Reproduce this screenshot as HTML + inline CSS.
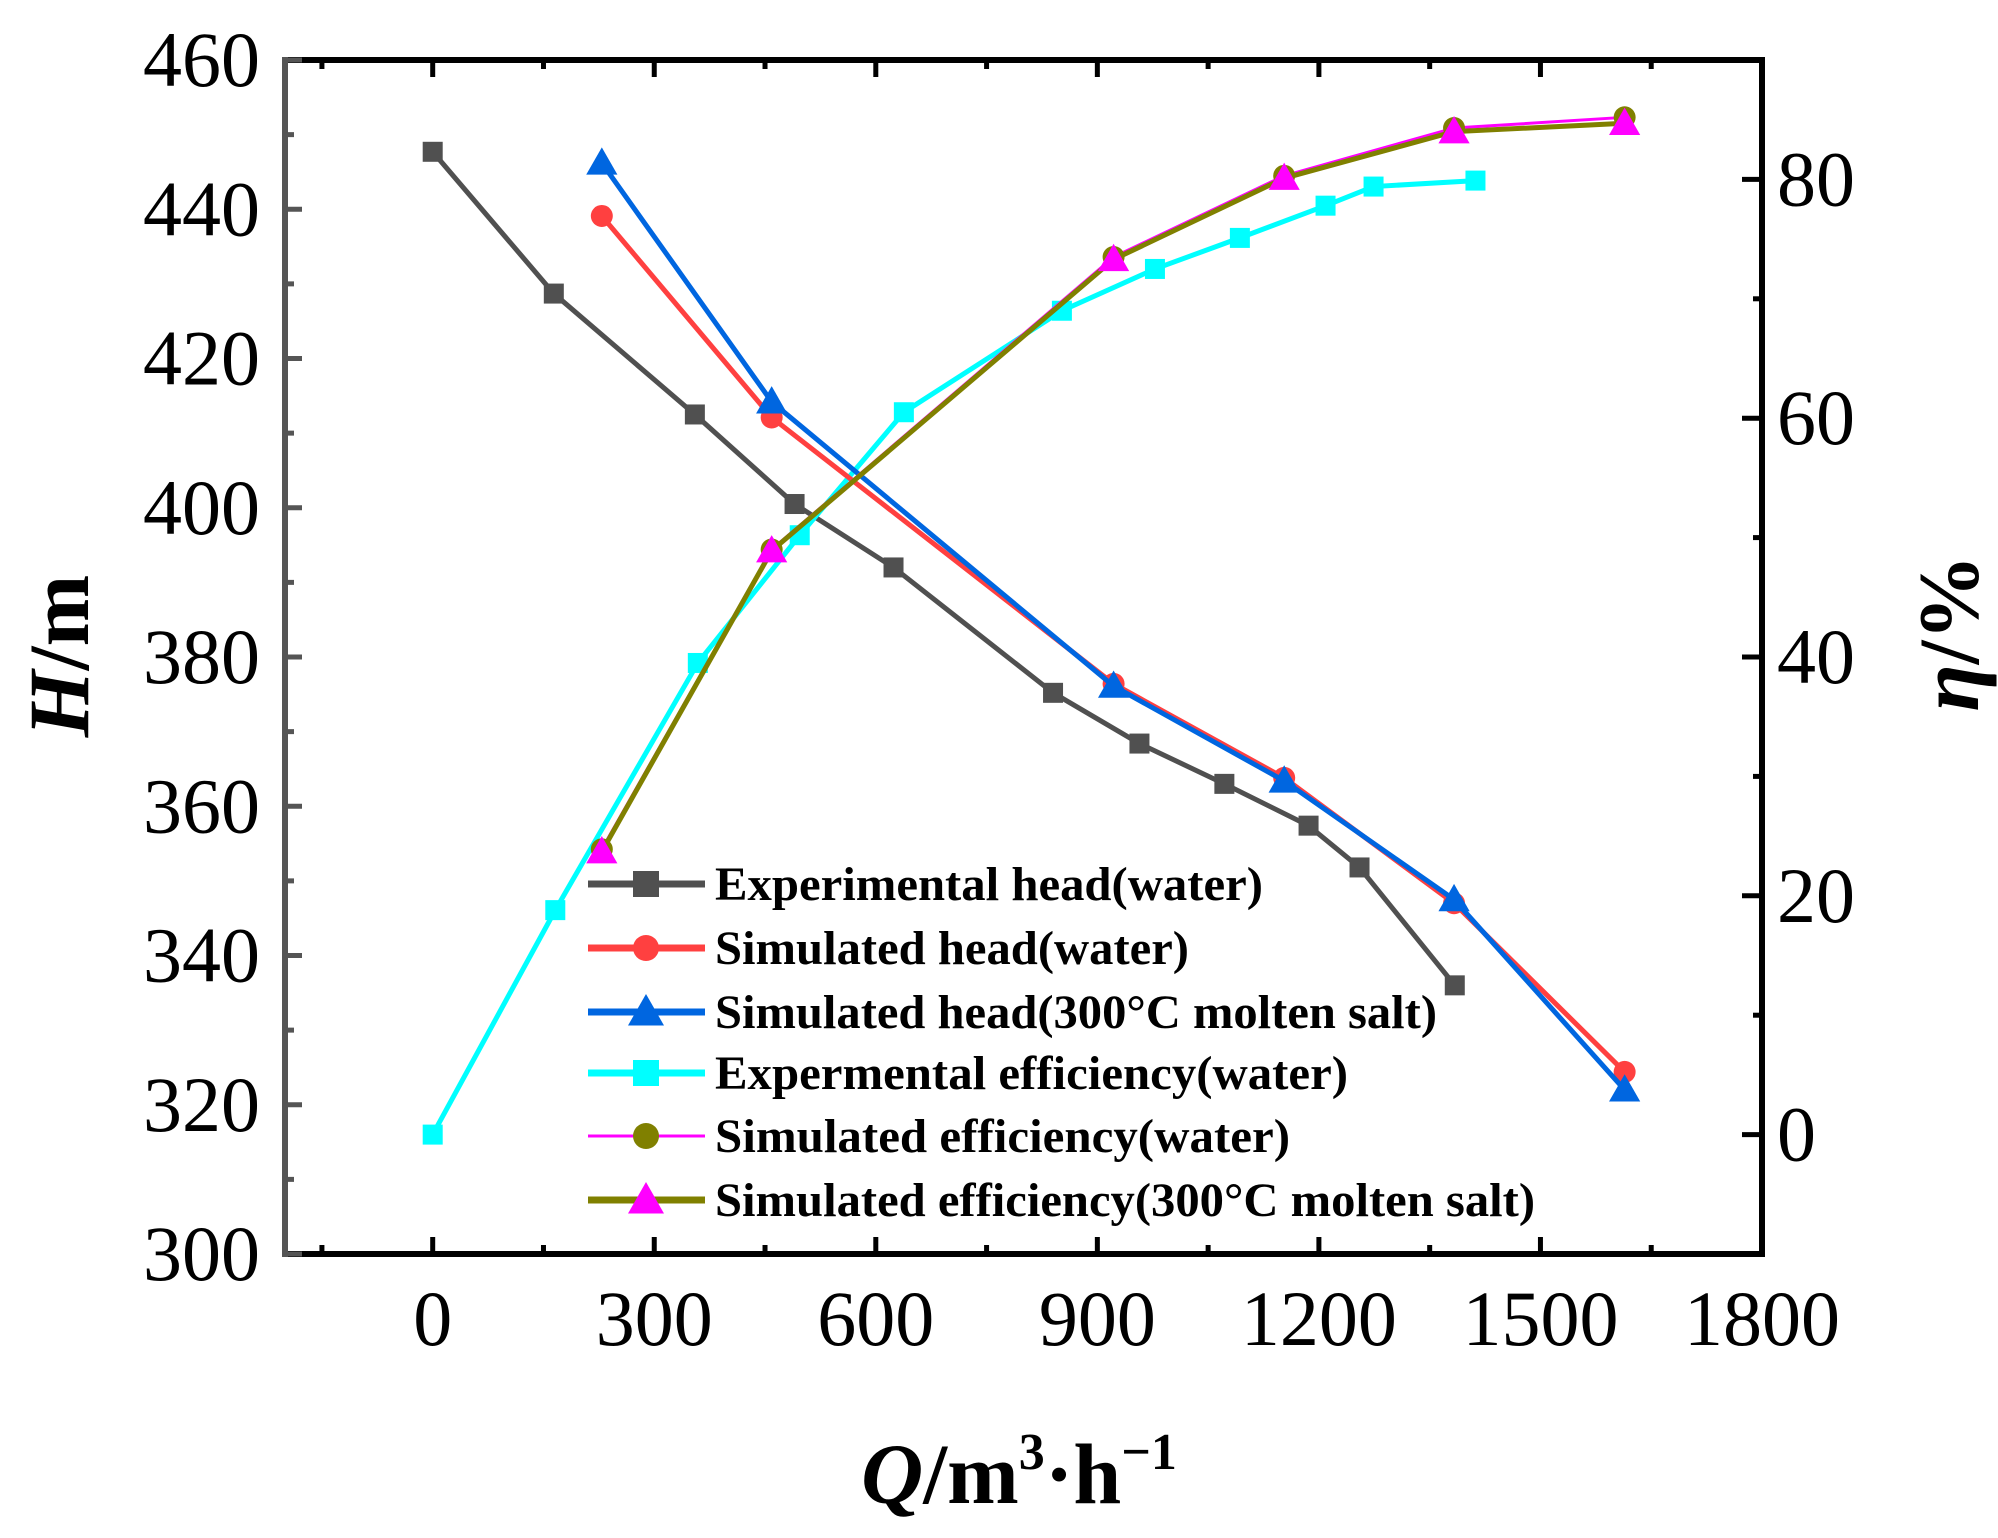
<!DOCTYPE html>
<html><head><meta charset="utf-8"><style>
html,body{margin:0;padding:0;background:#fff;}
svg{display:block;font-family:"Liberation Serif",serif;}
</style></head><body>
<svg id="chart" width="1998" height="1538" viewBox="0 0 1998 1538" xmlns="http://www.w3.org/2000/svg">
<g id="marks"></g>
<g id="axes"></g>
<g id="legend"></g>
<text transform="translate(88,656) rotate(-90)" text-anchor="middle" font-size="86" font-weight="bold"><tspan font-style="italic">H</tspan>/m</text>
<text transform="translate(1978,633) rotate(-90)" text-anchor="middle" font-size="86" font-weight="bold"><tspan font-style="italic">η</tspan>/%</text>
<text x="1019" y="1503" text-anchor="middle" font-size="86" font-weight="bold"><tspan font-style="italic">Q</tspan>/m<tspan font-size="52" dy="-34">3</tspan><tspan dy="34">·h</tspan><tspan font-size="52" dy="-34">−1</tspan></text>
</svg>
<script>
const expHeadQ=[0,164,355,490,624,840,957,1072,1186,1255,1384];
const expHead=[447.7,428.7,412.5,400.5,392,375.2,368.4,363,357.4,351.8,336];
const simQ=[229,459,922,1153,1383,1614];
const simHeadWater=[439.1,412.1,376.4,363.8,347,324.4];
const simHeadSalt=[446.2,414.2,376.1,363.4,347.5,322];
const expEffQ=[0,166,359,497,638,852,978,1093,1209,1274,1412];
const expEff=[0,18.8,39.5,50.2,60.5,69,72.5,75.1,77.8,79.4,79.9];
const simEffWater=[23.9,49,73.5,80.3,84.3,85.2];
const simEffSalt=[23.7,48.9,73.3,80.1,84,84.7];
const xTicks=[0,300,600,900,1200,1500,1800];
const yLeftTicks=[300,320,340,360,380,400,420,440,460];
const yRightTicks=[0,20,40,60,80];

const L=285,R=1762,T=60,B=1254;
const X=v=>L+(v+200)/2000*(R-L);
const YL=v=>B-(v-300)/160*(B-T);
const YR=v=>B-(v+10)/100*(B-T);
const NS="http://www.w3.org/2000/svg";
function mk(tag,attrs,parent){const e=document.createElementNS(NS,tag);for(const k in attrs)e.setAttribute(k,attrs[k]);parent.appendChild(e);return e;}
const marks=document.getElementById('marks'),axes=document.getElementById('axes'),legend=document.getElementById('legend');

function marker(g,type,x,y,fill,s){
  let e;
  if(type==='square')e=mk('rect',{x:x-s/2,y:y-s/2,width:s,height:s,fill:fill},g);
  else if(type==='circle')e=mk('circle',{cx:x,cy:y,r:s/2,fill:fill},g);
  else e=mk('polygon',{points:`${x},${y-s*0.6} ${x-s*0.6},${y+s*0.45} ${x+s*0.6},${y+s*0.45}`,fill:fill},g);
  return e;
}
function series(name,xs,ys,yf,line,lw,mtype,mfill,ms){
  const g=mk('g',{},marks);
  
  
  const pts=xs.map((q,i)=>X(q)+','+yf(ys[i])).join(' ');
  const pl=mk('polyline',{points:pts,fill:'none',stroke:line,'stroke-width':lw,'stroke-linejoin':'round'},g);
  
  
  xs.forEach((q,i)=>{const m=marker(g,mtype,X(q),yf(ys[i]),mfill,ms);
    
    });
}
series('experimental-head-water',expHeadQ,expHead,YL,'#505050',5,'square','#505050',20);
series('experimental-efficiency-water',expEffQ,expEff,YR,'#00ffff',5,'square','#00ffff',20);
series('simulated-head-water',simQ,simHeadWater,YL,'#ff4040',5,'circle','#ff4040',22);
series('simulated-head-salt',simQ,simHeadSalt,YL,'#0066e0',5,'triangle','#0066e0',26);
series('simulated-efficiency-water',simQ,simEffWater,YR,'#ff00ff',3,'circle','#808000',22);
series('simulated-efficiency-salt',simQ,simEffSalt,YR,'#808000',5,'triangle','#ff00ff',26);

let e;
e=mk('line',{x1:L,y1:T,x2:R,y2:T,stroke:'#000','stroke-width':6},axes);
e=mk('line',{x1:R,y1:T-3,x2:R,y2:B+3,stroke:'#000','stroke-width':6},axes);
e=mk('line',{x1:L,y1:B,x2:R,y2:B,stroke:'#000','stroke-width':6},axes);
e=mk('line',{x1:L,y1:T-3,x2:L,y2:B+3,stroke:'#555','stroke-width':6},axes);

for(let q=-150;q<=1800;q+=150){
  const maj=q%300===0, len=maj?17:9, x=X(q);
  mk('line',{x1:x,y1:B,x2:x,y2:B-len,stroke:'#000','stroke-width':5},axes);
  mk('line',{x1:x,y1:T,x2:x,y2:T+len,stroke:'#000','stroke-width':5},axes);
}
xTicks.forEach(q=>{const t=mk('text',{x:X(q),y:1345,'text-anchor':'middle','font-size':78},axes);t.textContent=q;
  });
for(let v=300;v<=460;v+=10){
  const maj=v%20===0,len=maj?17:9,y=YL(v);
  mk('line',{x1:L,y1:y,x2:L+len,y2:y,stroke:'#555','stroke-width':5},axes);
}
yLeftTicks.forEach(v=>{const t=mk('text',{x:260,y:YL(v)+26,'text-anchor':'end','font-size':78},axes);t.textContent=v;
  });
for(let v=-10;v<=90;v+=10){
  const maj=v%20===0,len=maj?20:9,y=YR(v);
  mk('line',{x1:R,y1:y,x2:R-len,y2:y,stroke:'#000','stroke-width':5},axes);
}
yRightTicks.forEach(v=>{const t=mk('text',{x:1777,y:YR(v)+26,'text-anchor':'start','font-size':78},axes);t.textContent=v;
  });

const legNames=['Experimental head(water)','Simulated head(water)','Simulated head(300°C molten salt)','Expermental efficiency(water)','Simulated efficiency(water)','Simulated efficiency(300°C molten salt)'];
const legW=[548,474,722,633,575,820];
const legStyle=[['#505050',7,'square','#505050',26],['#ff4040',7,'circle','#ff4040',26],['#0066e0',7,'triangle','#0066e0',30],['#00ffff',7,'square','#00ffff',26],['#ff00ff',3,'circle','#808000',26],['#808000',7,'triangle','#ff00ff',30]];
const legY=[884,948,1012,1073,1136,1200];
legNames.forEach((n,i)=>{
  const g=mk('g',{},legend);
  
  
  const s=legStyle[i];
  mk('line',{x1:588,y1:legY[i],x2:705,y2:legY[i],stroke:s[0],'stroke-width':s[1]},g);
  marker(g,s[2],646,legY[i],s[3],s[4]);
  const t=mk('text',{x:715,y:legY[i]+16,'font-size':48,'font-weight':'bold',textLength:legW[i],lengthAdjust:'spacingAndGlyphs'},g);
  t.textContent=n;
});
</script>
</body></html>
